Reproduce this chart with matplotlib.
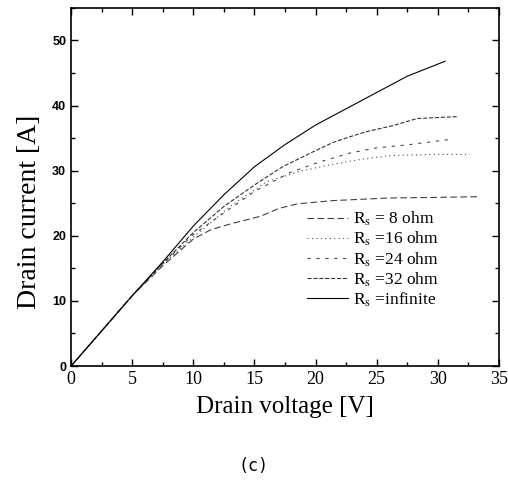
import matplotlib
matplotlib.use("Agg")
import matplotlib.pyplot as plt
from matplotlib.ticker import MultipleLocator

plt.rcParams['mathtext.fontset'] = 'stix'

v_inf = [0, 2.5, 5, 7.5, 10, 12.5, 15, 17.5, 20, 22.5, 25, 27.5, 30.6]
i_inf = [0, 5.4, 10.8, 16.0, 21.5, 26.3, 30.6, 34.0, 37.0, 39.5, 42.0, 44.5, 46.8]

v_32 = [0, 5, 7.5, 10, 12.5, 15, 17.3, 19.8, 21.4, 22.8, 24.2, 26.3, 28.3, 31.6]
i_32 = [0, 10.8, 15.8, 20.5, 24.5, 27.8, 30.6, 32.9, 34.3, 35.2, 36.0, 36.9, 38.0, 38.3]

v_24 = [0, 5, 7.5, 10, 12.5, 15, 17.9, 20.1, 22.8, 25, 27.7, 31]
i_24 = [0, 10.8, 15.7, 20.2, 23.5, 26.8, 29.7, 31.2, 32.7, 33.5, 34.0, 34.8]

v_16 = [0, 5, 7.5, 10, 13, 16, 18.7, 21.2, 23.6, 26, 29.9, 32.6]
i_16 = [0, 10.8, 15.6, 19.8, 24.5, 28.3, 29.9, 30.9, 31.7, 32.3, 32.5, 32.5]

v_8 = [0, 5, 7.5, 10, 11.4, 13, 15.5, 17, 18.5, 21.4, 26, 30, 33.4]
i_8 = [0, 10.8, 15.4, 19.5, 20.9, 21.8, 23.0, 24.2, 24.9, 25.4, 25.8, 25.9, 26.0]

labels = [r'R$_\mathrm{s}$ = 8 ohm', r'R$_\mathrm{s}$ =16 ohm', r'R$_\mathrm{s}$ =24 ohm',
          r'R$_\mathrm{s}$ =32 ohm', r'R$_\mathrm{s}$ =infinite']

fig = plt.figure(figsize=(5.08, 4.90), dpi=100)
ax = fig.add_axes([0.14, 0.253, 0.842, 0.731])

lw = 0.8
ax.plot(v_8, i_8, color='0.25', lw=lw, ls=(0, (6, 3)), label=labels[0])
ax.plot(v_16, i_16, color='0.3', lw=lw, ls=(0, (1, 3)), label=labels[1])
ax.plot(v_24, i_24, color='0.3', lw=lw, ls=(0, (3, 5)), label=labels[2])
ax.plot(v_32, i_32, color='0.2', lw=lw, ls='--', label=labels[3])
ax.plot(v_inf, i_inf, color='black', lw=lw, ls='-', label=labels[4])

ax.set_xlim(0, 35)
ax.set_ylim(0, 55)
ax.xaxis.set_major_locator(MultipleLocator(5))
ax.xaxis.set_minor_locator(MultipleLocator(2.5))
ax.yaxis.set_major_locator(MultipleLocator(10))
ax.yaxis.set_minor_locator(MultipleLocator(5))
ax.tick_params(which='both', direction='in', top=True, right=True)
ax.tick_params(which='major', length=5, width=1)
ax.tick_params(which='minor', length=3, width=1)
for s in ax.spines.values():
    s.set_linewidth(1.2)

for t in ax.get_xticklabels():
    t.set_fontfamily('Liberation Serif')
    t.set_fontsize(13)
for t in ax.get_yticklabels():
    t.set_fontfamily('Liberation Sans')
    t.set_fontweight('bold')
    t.set_fontsize(9)

ax.set_xlabel('Drain voltage [V]', fontfamily='Liberation Serif', fontsize=18, labelpad=6)
ax.set_ylabel('Drain current [A]', fontfamily='Liberation Serif', fontsize=20)
ax.yaxis.set_label_coords(-0.068, 0.43)

leg = ax.legend(loc='upper left', bbox_to_anchor=(0.53, 0.46), frameon=False,
                prop={'family': 'Liberation Serif', 'size': 12.5},
                handlelength=2.4, handletextpad=0.3, labelspacing=0.1,
                borderpad=0)

fig.text(0.5, 0.05, '(c)', ha='center', va='center',
         fontfamily='DejaVu Sans Mono', fontsize=12)

fig.savefig('out.png', dpi=100)
